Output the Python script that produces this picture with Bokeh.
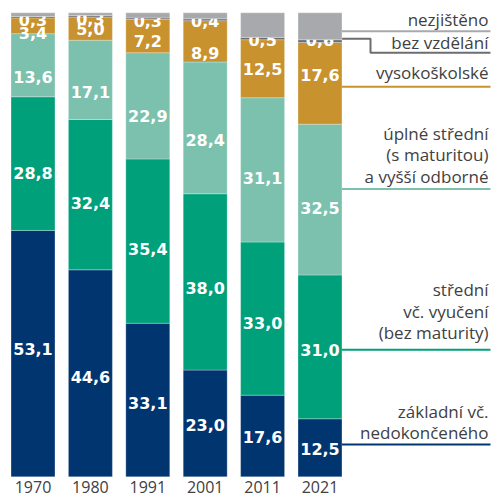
import numpy as np
from bokeh.plotting import figure
from bokeh.models import ColumnDataSource, Range1d
from bokeh.core.properties import value
from bokeh.embed import file_html
from bokeh.resources import INLINE

years = ["1970", "1980", "1991", "2001", "2011", "2021"]
zakladni = [53.1, 44.6, 33.1, 23.0, 17.6, 12.5]
stredni = [28.8, 32.4, 35.4, 38.0, 33.0, 31.0]
uplne_stredni = [13.6, 17.1, 22.9, 28.4, 31.1, 32.5]
vysokoskolske = [3.4, 5.0, 7.2, 8.9, 12.5, 17.6]
bez_vzdelani = [0.3, 0.3, 0.3, 0.4, 0.5, 0.6]
nezjisteno = [0.8, 0.6, 1.1, 1.3, 5.3, 5.8]

series = [zakladni, stredni, uplne_stredni, vysokoskolske, bez_vzdelani, nezjisteno]
category_labels = [
    ["základní vč.", "nedokončeného"],
    ["střední", "vč. vyučení", "(bez maturity)"],
    ["úplné střední", "(s maturitou)", "a vyšší odborné"],
    ["vysokoškolské"],
    ["bez vzdělání"],
    ["nezjištěno"],
]
show_value = [True, True, True, True, True, False]

# ---- styling / layout (not data) ----
colors = ["#00356f", "#00a07b", "#7bc1ae", "#c8922f", "#6b6d70", "#a7a9ac"]
# pixel nudges of the value labels (rows: categories, cols: years)
label_dy = [
    [-5, 4, 3, 2, 1.5, 1],
    [9, 8, 8, 6, 4, 3],
    [12, 12, 10.5, 12, 8.5, 8.5],
    [7, 0, 5, 12, 0, -8],
    [3, 3, 2, 1, 1, -1],
    [0, 0, 0, 0, 0, 0],
]
leader_shift = [0.7, -0.6, 2.25, -0.75, 0.5, -1.1]   # % shift of leader lines
text_dy = [-12, -17, -12.7, -14.3, -10.3, -12.3]     # px text middle vs line
LINE_GAP = 21.5
TEXT_COLOR = "#414042"
PX_PER_PCT = 4.64
PX_PER_BAR = 57.4
FRAME_W, FRAME_H = 493, 497
BASE_PX = 476.3          # pixel row of the 0 % baseline
YEAR_DY = 10             # px below the baseline for year labels
bar_w = 0.766
x_text = 7.936
x_line_end = 7.97
step_x = 5.88
step_drop = 3.0

x = np.arange(len(years))
x0r = -32.5 / PX_PER_BAR
y0r = -(FRAME_H - BASE_PX) / PX_PER_PCT
p = figure(frame_width=FRAME_W, frame_height=FRAME_H, output_backend="svg",
           toolbar_location=None,
           x_range=Range1d(x0r, x0r + FRAME_W / PX_PER_BAR),
           y_range=Range1d(y0r, y0r + FRAME_H / PX_PER_PCT),
           x_axis_location=None, y_axis_location=None,
           min_border_left=0, min_border_right=0, min_border_top=0, min_border_bottom=0)
p.outline_line_color = None
p.grid.visible = False

bottom = np.zeros(len(years))
for i, vals in enumerate(series):
    vals = np.array(vals)
    top = bottom + vals
    src = ColumnDataSource(dict(x=x, bottom=bottom, top=top, mid=(bottom + top) / 2,
                                dy=label_dy[i],
                                lab=[f"{v:.1f}".replace(".", ",") for v in vals]))
    p.vbar(x="x", bottom="bottom", top="top", width=bar_w, source=src,
           fill_color=colors[i], line_color="white", line_alpha=0.35, line_width=0.8)
    if show_value[i]:
        p.text(x="x", y="mid", text="lab", source=src, text_align="center",
               text_baseline="middle", y_offset="dy", text_color="white",
               text_font=value("DejaVu Sans"), text_font_style="bold",
               text_font_size="16px")
    # leader line from the last bar to its category label
    y_line = (bottom[-1] + top[-1]) / 2 + leader_shift[i]
    xa = x[-1] + bar_w / 2
    if i == 4:
        xs = [xa, step_x, step_x, x_line_end]
        ys = [y_line, y_line, y_line - step_drop, y_line - step_drop]
        y_lab = y_line - step_drop
    else:
        xs = [xa, x_line_end]
        ys = [y_line, y_line]
        y_lab = y_line
    p.line(xs, ys, line_color=colors[i], line_width=2)
    lines = category_labels[i]
    n = len(lines)
    for j, t in enumerate(lines):
        p.text(x=[x_text], y=[y_lab], text=[t], text_align="right",
               text_baseline="middle", y_offset=text_dy[i] - LINE_GAP * (n - 1 - j),
               text_color=TEXT_COLOR, text_font=value("Open Sans"),
               text_font_size="17px")
    bottom = top

# year labels under the bars
ysrc = ColumnDataSource(dict(x=x, y=np.zeros(len(years)), t=years))
p.text(x="x", y="y", text="t", source=ysrc, text_align="center",
       text_baseline="middle", y_offset=YEAR_DY, text_color=TEXT_COLOR,
       text_font=value("Open Sans"), text_font_size="16px")

open("out.html", "w").write(file_html(p, INLINE))
